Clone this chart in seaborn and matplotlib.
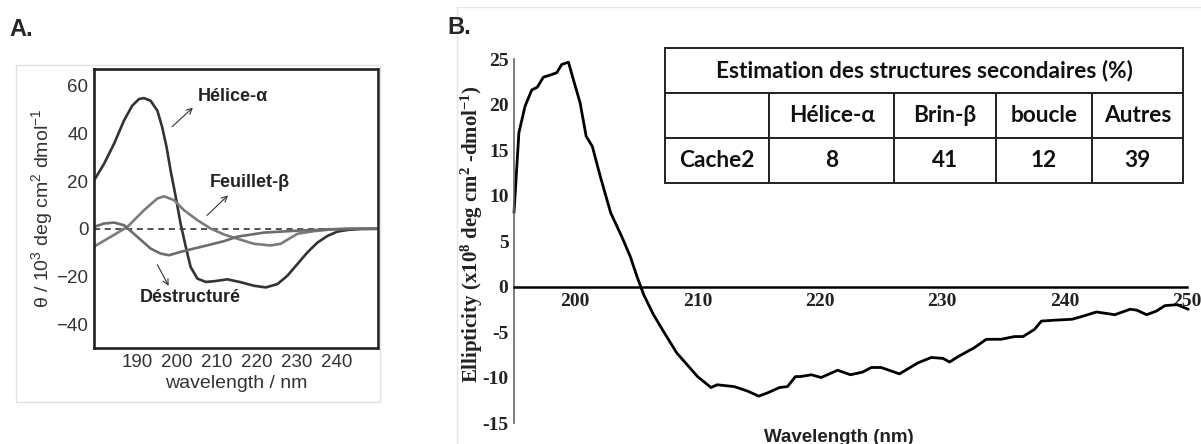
import numpy as np
import pandas as pd
import seaborn as sns
import matplotlib.pyplot as plt
from matplotlib.patches import Rectangle
from matplotlib.ticker import MultipleLocator

sns.set_style("white")
plt.rcParams['font.family'] = ['Liberation Sans', 'DejaVu Sans']
plt.rcParams['mathtext.fontset'] = 'custom'
plt.rcParams['mathtext.rm'] = 'Liberation Sans'
plt.rcParams['mathtext.bf'] = 'Liberation Serif:bold'
plt.rcParams['mathtext.default'] = 'regular'

# ---- panel A : reference CD spectra ----
helix_x = [179.25, 181.75, 184.25, 186.75, 188.8, 190.5, 191.75, 193.4, 195.1, 196.3,
           197.4, 198.4, 199.7, 200.9, 202.2, 203.4, 205.1, 207.2, 209.25, 212.6,
           215.9, 219.25, 222.2, 225.1, 227.6, 230.1, 232.6, 235.1, 237.6, 240.1,
           242.6, 245.9, 250.1]
helix_y = [20.25, 27.2, 35.6, 45.4, 51.6, 54.4, 54.8, 53.7, 49.5, 42.6,
           34.2, 24.4, 13.3, 2.1, -7.6, -16.0, -20.9, -22.3, -22.0, -21.2,
           -22.4, -23.9, -24.6, -23.2, -19.7, -14.8, -9.9, -5.8, -3.0, -1.2,
           -0.5, -0.1, 0.0]
sheet_x = [179.25, 183.4, 187.6, 191.75, 195.1, 196.75, 199.25, 201.75, 205.1, 208.4,
           211.75, 215.9, 219.25, 223.4, 225.9, 228.0, 230.1, 234.25, 238.4, 242.6,
           250.1]
sheet_y = [-7.5, -3.4, 0.8, 7.8, 12.7, 13.6, 12.0, 7.8, 3.6, 0.1,
           -2.4, -4.6, -6.3, -7.0, -6.3, -4.2, -2.1, -1.0, -0.3, 0.0,
           0.0]
coil_x = [179.25, 181.75, 184.25, 186.75, 190.1, 193.4, 195.9, 198.0, 200.9, 204.25,
          208.4, 211.75, 215.1, 221.75, 230.1, 238.4, 244.0, 250.1]
coil_y = [0.8, 2.2, 2.6, 1.5, -3.4, -8.3, -10.4, -11.1, -9.7, -8.3,
          -6.6, -5.2, -3.3, -1.6, -0.8, -0.2, 0.0, 0.0]

# ---- panel B : measured spectrum ----
wl_b = [195.0, 195.2, 195.4, 195.9, 196.45, 196.9, 197.4, 198.1, 198.5, 198.9,
        199.45, 199.86, 200.4, 200.9, 201.4, 202.05, 202.9, 203.8, 204.5, 205.05,
        205.6, 206.4, 207.2, 208.3, 209.15, 210.0, 211.1, 211.6, 213.0, 214.1,
        215.0, 215.7, 216.7, 217.35, 218.0, 218.4, 219.3, 220.1, 221.45, 222.5,
        223.5, 224.2, 225.0, 226.5, 228.0, 229.1, 230.05, 230.6, 231.3, 232.65,
        233.6, 234.8, 235.9, 236.6, 237.55, 238.1, 239.2, 240.6, 241.4, 242.6,
        244.1, 245.35, 245.9, 246.7, 247.5, 248.2, 249.2, 250.1]
ell_b = [8.1, 12.5, 16.9, 19.8, 21.6, 21.9, 23.0, 23.3, 23.5, 24.4,
         24.65, 22.7, 20.2, 16.5, 15.4, 12.1, 8.1, 5.5, 3.3, 1.1,
         -0.9, -3.1, -4.9, -7.3, -8.6, -9.9, -11.1, -10.8, -11.0, -11.5,
         -12.05, -11.7, -11.1, -11.0, -9.9, -9.9, -9.7, -10.0, -9.2, -9.7,
         -9.4, -8.9, -8.9, -9.6, -8.4, -7.8, -7.9, -8.3, -7.7, -6.7,
         -5.8, -5.8, -5.5, -5.5, -4.7, -3.8, -3.7, -3.6, -3.3, -2.8,
         -3.1, -2.5, -2.6, -3.1, -2.7, -2.1, -2.0, -2.5]
b_xticks = [200, 210, 220, 230, 240, 250]
b_yticks = [-15, -10, -5, 0, 5, 10, 15, 20, 25]

# ---- table ----
tab_title = "Estimation des structures secondaires (%)"
tab_cols = ["", "Hélice-α", "Brin-β", "boucle", "Autres"]
tab_row = ["Cache2", "8", "41", "12", "39"]

W, H = 1201, 444
fig = plt.figure(figsize=(W / 100, H / 100), dpi=100)

def fx(px):
    return px / W

def fy(py):
    return 1 - py / H

# light frames around the two panels
fig.patches.append(Rectangle((fx(16), fy(402)), fx(364), (402 - 65) / H,
                             transform=fig.transFigure, fill=False,
                             ec='#e2e2e2', lw=1))
fig.add_artist(plt.Line2D([fx(457), 1], [fy(7), fy(7)], color='#e6e6e6', lw=1))
fig.add_artist(plt.Line2D([fx(457), fx(457)], [fy(7), 0], color='#e6e6e6', lw=1))

fig.text(fx(9), fy(30), "A.", fontsize=17, fontweight='bold', va='center')
fig.text(fx(447), fy(28), "B.", fontsize=17, fontweight='bold', va='center')

# ================= panel A =================
axA = fig.add_axes([fx(94), fy(348), fx(284), 279 / H])
sns.lineplot(x=helix_x, y=helix_y, ax=axA, color='#333333', lw=1.9, sort=False)
sns.lineplot(x=sheet_x, y=sheet_y, ax=axA, color='#7b7b7b', lw=1.9, sort=False)
sns.lineplot(x=coil_x, y=coil_y, ax=axA, color='#6c6c6c', lw=1.9, sort=False)
axA.axhline(0, color='#222222', lw=1.1, ls=(0, (4, 3)), zorder=0)
axA.set_xlim(179.25, 250.25)
axA.set_ylim(-50, 67)
axA.set_xticks([190, 200, 210, 220, 230, 240])
axA.xaxis.set_minor_locator(MultipleLocator(5))
axA.set_yticks([-40, -20, 0, 20, 40, 60])
axA.set_yticklabels(['\u221240', '\u221220', '0', '20', '40', '60'])
axA.yaxis.set_minor_locator(MultipleLocator(10))
axA.tick_params(axis='both', which='both', direction='in', colors='#333333',
                labelsize=13.5, length=3, width=1.2, pad=4)
axA.tick_params(axis='y', which='major', length=4)
for s in axA.spines.values():
    s.set_color('#222222')
    s.set_linewidth(1.9)
axA.set_xlabel("wavelength / nm", fontsize=14, color='#333333', labelpad=3)
axA.set_ylabel(r"θ / 10$^3$ deg cm$^2$ dmol$^{-1}$", fontsize=14,
               color='#333333', labelpad=1)

arrow = dict(arrowstyle='->', color='#333333', lw=0.8)
axA.annotate("", xy=(204.5, 51.6), xytext=(198.25, 42), arrowprops=arrow)
axA.text(205.3, 55.4, "Hélice-α", fontsize=13, fontweight='bold',
         color='#222222', ha='left', va='center')
axA.annotate("", xy=(213.25, 14.8), xytext=(207, 4.8), arrowprops=arrow)
axA.text(208.2, 19.4, "Feuillet-β", fontsize=13, fontweight='bold',
         color='#222222', ha='left', va='center')
axA.annotate("", xy=(198.25, -25), xytext=(194.75, -14), arrowprops=arrow)
axA.text(190.7, -28.7, "Déstructuré", fontsize=13, fontweight='bold',
         color='#222222', ha='left', va='center')

# ================= panel B =================
axB = fig.add_axes([fx(514), fy(423), fx(673), 364 / H])
sns.lineplot(x=wl_b, y=ell_b, ax=axB, color='black', lw=2.0, sort=False)
axB.lines[-1].set_clip_on(False)
axB.set_xlim(195, 250)
axB.set_ylim(-15, 25)
axB.spines['top'].set_visible(False)
axB.spines['right'].set_visible(False)
axB.spines['bottom'].set_position(('data', 0))
axB.spines['bottom'].set_color('black')
axB.spines['bottom'].set_linewidth(1.8)
axB.spines['left'].set_color('#666666')
axB.spines['left'].set_linewidth(1.2)
axB.set_xticks(b_xticks)
axB.set_xticklabels([str(v) for v in b_xticks])
axB.set_yticks(b_yticks)
axB.set_yticklabels([str(v) for v in b_yticks])
axB.tick_params(axis='x', direction='in', length=6, width=1.8, color='black',
                pad=5, labelsize=14)
axB.tick_params(axis='y', direction='in', length=5, width=1.2, color='#666666',
                pad=4, labelsize=14)
for lab in axB.get_xticklabels() + axB.get_yticklabels():
    lab.set_family(['Liberation Serif', 'DejaVu Serif'])
    lab.set_fontweight('bold')
    lab.set_color('#222222')
axB.set_ylabel(r"Ellipticity (x10$^{\mathbf{8}}$ deg cm$^{\mathbf{2}}$ -dmol$^{\mathbf{-1}}$)",
               fontsize=15, fontweight='bold', family=['Liberation Serif', 'DejaVu Serif'],
               color='#222222', va='center')
axB.yaxis.set_label_coords(-0.063, 0.52)
fig.text(fx(839), fy(437), "Wavelength (nm)", fontsize=13.5, fontweight='bold',
         ha='center', va='center', color='#222222')

# ================= table =================
tab_family = ['Lato', 'DejaVu Sans']
col_w = np.array([104, 125, 101, 96, 91], dtype=float)
col_w = list(col_w / col_w.sum())
axT = fig.add_axes([fx(665), fy(183), fx(518), 135 / H])
axT.axis('off')
t1 = axT.table(cellText=[[tab_title]], bbox=[0, 2 / 3, 1, 1 / 3], cellLoc='center')
t2 = axT.table(cellText=[tab_cols, tab_row], colWidths=col_w, bbox=[0, 0, 1, 2 / 3],
               cellLoc='center')
for t in (t1, t2):
    t.auto_set_font_size(False)
    for cell in t.get_celld().values():
        cell.set_linewidth(1.4)
        cell.set_edgecolor('#222222')
        txt = cell.get_text()
        txt.set_fontsize(16.3)
        txt.set_fontweight('bold')
        txt.set_family(tab_family)
        txt.set_color('#111111')

fig.savefig("out.png", dpi=100)
